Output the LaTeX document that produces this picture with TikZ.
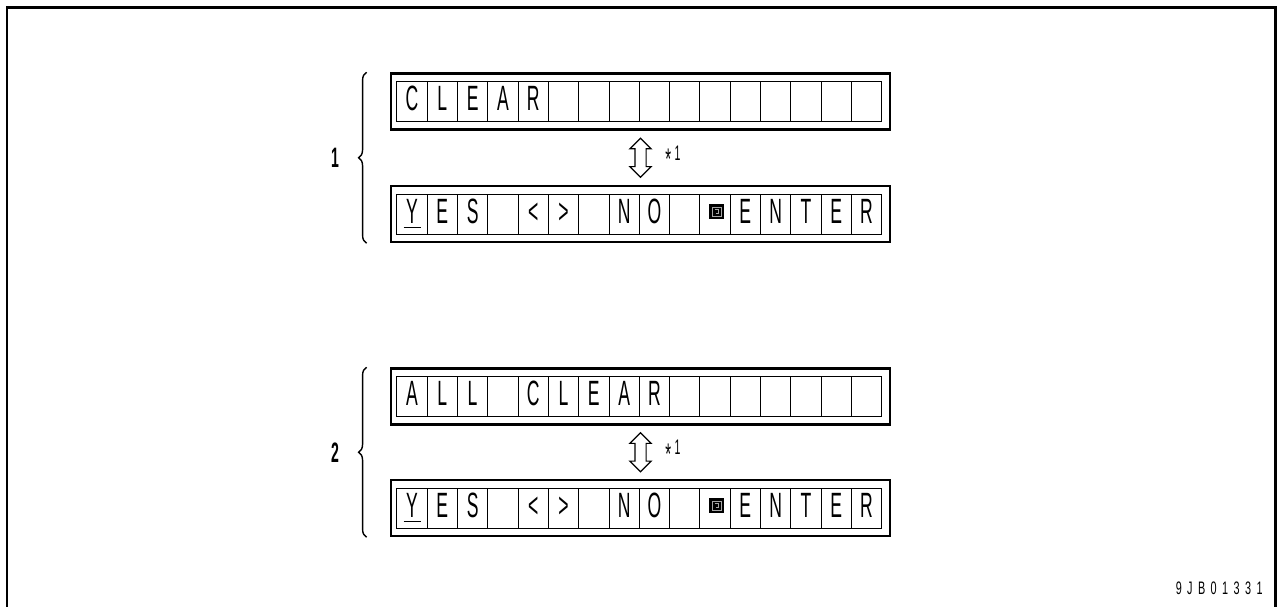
\documentclass[tikz,border=0pt]{standalone}
\usepackage{fontspec}
\usepackage{tikz}
\usetikzlibrary{positioning,calc,shapes.arrows,decorations.pathreplacing}
\newfontfamily\lcd[FakeStretch=0.5]{Liberation Sans}
\newfontfamily\lcdid[FakeStretch=0.6,LetterSpace=30]{Liberation Sans}
\newcommand{\ulY}{\setbox0\hbox{Y}\rlap{\hspace{-1.5pt}\rule[-3pt]{\dimexpr\wd0+3pt\relax}{1pt}}Y}
\newcommand{\notestar}{\raisebox{-5.5pt}{\fontsize{17}{17}\selectfont *}\,}

\begin{document}
\begin{tikzpicture}[x=0.02cm,y=-0.02cm,
  dispbox/.style={draw,line width=1.4pt,minimum width=9.99cm,minimum height=1.12cm,inner sep=0},
  cell/.style={draw,line width=0.5pt,minimum width=0.606cm,minimum height=0.8cm,inner sep=0,
    font=\lcd\fontsize{20}{24}\selectfont,text height=14.5pt,text depth=4pt},
  swaparrow/.style={shape=double arrow,draw,line width=0.7pt,shape border rotate=90,
    minimum height=0.78cm,inner sep=0.1cm,double arrow head extend=0.1cm},
  note/.style={font=\lcd\fontsize{12}{14}\selectfont,inner sep=0},
  grp/.style={font=\lcd\bfseries\fontsize{16}{18}\selectfont,inner sep=0},
  brc/.style={decorate,decoration={brace,amplitude=0.16cm},line width=0.8pt}]
  \useasboundingbox (0,0) rectangle (1284,607);
  \draw[line width=1.7pt] (7,607) -- (7,8) -- (1275,8) -- (1275,607);

  % displays
  \node[dispbox] (d1a) at (640.5,101.5) {};
  \node[dispbox] (d1b) at (640.5,214) {};
  \node[dispbox] (d2a) at (640.5,396.5) {};
  \node[dispbox] (d2b) at (640.5,508) {};

  \foreach \c [count=\i] in {C,L,E,A,R,{},{},{},{},{},{},{},{},{},{},{}}
    \node[cell] (d1a-\i) at ($(d1a.west)+(30.3*\i-7.85,0)$) {\c};
  \foreach \c [count=\i] in {A,L,L,{},C,L,E,A,R,{},{},{},{},{},{},{}}
    \node[cell] (d2a-\i) at ($(d2a.west)+(30.3*\i-7.85,0)$) {\c};
  \foreach \d in {d1b,d2b}
    \foreach \c [count=\i] in {\ulY,E,S,{},<,>,{},N,O,{},{},E,N,T,E,R}
      \node[cell] (\d-\i) at ($(\d.west)+(30.3*\i-7.85,0)$) {\c};

  % key mark
  \foreach \d in {d1b,d2b} {
    \fill ($(\d-11)+(-6,-10)$) rectangle ($(\d-11)+(9,5)$);
    \draw[gray!70,line width=0.3pt] ($(\d-11)+(-3,-7)$) rectangle ($(\d-11)+(6,2)$);
    \draw[gray!70,line width=0.3pt] ($(\d-11)+(-0.5,-4.5)$) -| ($(\d-11)+(3.5,-0.5)$) -- ($(\d-11)+(0.5,-0.5)$);
  }

  % toggles
  \node[swaparrow] (s1) at ($(d1a.south)!0.5!(d1b.north)$) {};
  \node[note,right=0.49cm of s1.center] (n1) {\notestar1};
  \node[swaparrow] (s2) at ($(d2a.south)!0.5!(d2b.north)$) {};
  \node[note,right=0.49cm of s2.center] (n2) {\notestar1};

  % groups
  \coordinate (b1bot) at ($(d1b.south west)+(-23,0)$);
  \coordinate (b1top) at ($(d1a.north west)+(-23,0)$);
  \coordinate (b2bot) at ($(d2b.south west)+(-23,0)$);
  \coordinate (b2top) at ($(d2a.north west)+(-23,0)$);
  \draw[brc] (b1bot) -- node[grp,left=0.54cm] (g1) {1} (b1top);
  \draw[brc] (b2bot) -- node[grp,left=0.54cm] (g2) {2} (b2top);

  \node[font=\lcdid\fontsize{10.3}{12}\selectfont,anchor=east,inner sep=0] (code) at (1263,588) {9JB01331};
\end{tikzpicture}
\end{document}
